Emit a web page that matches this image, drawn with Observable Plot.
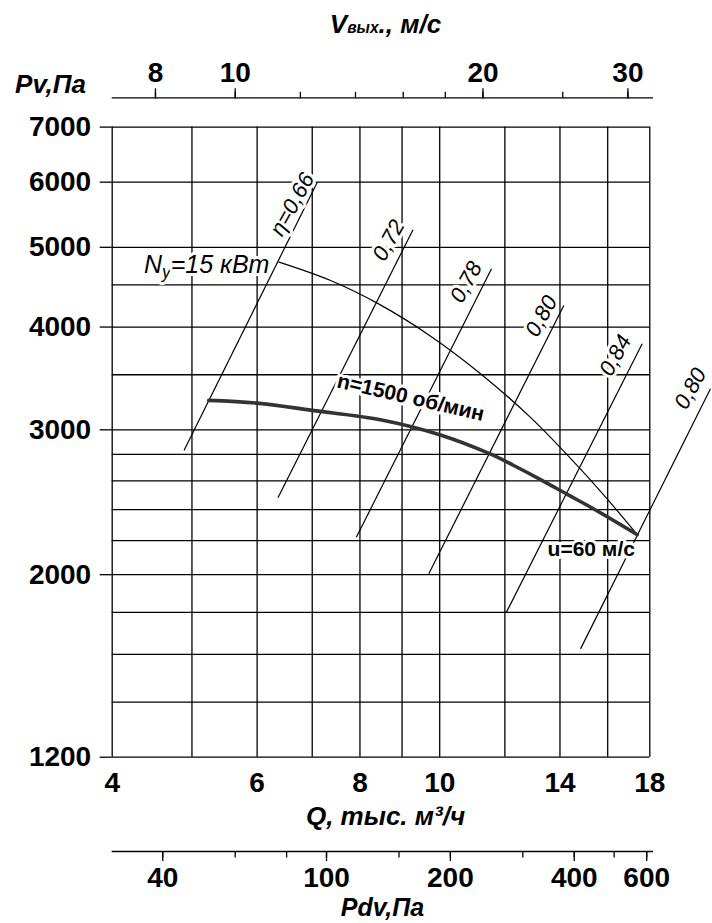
<!DOCTYPE html>
<html><head><meta charset="utf-8">
<script src="https://cdn.jsdelivr.net/npm/d3@7"></script>
<script src="https://cdn.jsdelivr.net/npm/@observablehq/plot@0.6"></script>
<style>body{margin:0;background:#fff}</style>
</head><body><div id="chart"></div>
<script>
// ---- data ----
const qGrid = [4, 5, 6, 7, 8, 9, 10, 12, 14, 16, 18];
const qTicks = [4, 6, 8, 10, 14, 18];
const pGrid = [1200, 1400, 1600, 1800, 2000, 2200, 2400, 2600, 2800, 3000, 3500, 4000, 4500, 5000, 6000, 7000];
const pTicks = [1200, 2000, 3000, 4000, 5000, 6000, 7000];
const vTicks = [8, 10, 12, 14, 16, 18, 20, 25, 30];
const vLabels = [8, 10, 20, 30];
const pdvTicks = [40, 60, 80, 100, 150, 200, 300, 400, 500, 600];
const pdvLabels = [40, 100, 200, 400, 600];
const vPerQ = 1.772;   // outlet velocity, m/s per thousand m3/h
const rhoHalf = 0.6;   // dynamic pressure = 0.6 * V^2

const curveQ = [5.24, 6.0, 7.0, 8.47, 10.0, 11.5, 12.3, 13.26, 14.29, 15.39, 17.38];
const curveP = [3258, 3233, 3168, 3086, 2959, 2806, 2715, 2610, 2504, 2404, 2237];
const powerQ = [6.38, 7.37, 8.47, 9.74, 11.2, 12.9, 14.8, 16.1, 17.38];
const powerP = [4797, 4556, 4256, 3902, 3513, 3104, 2693, 2450, 2237];

const etaLabels = ["η=0,66", "0,72", "0,78", "0,80", "0,84", "0,80"];
const etaQ1 = [4.89, 6.36, 7.92, 9.70, 12.05, 14.83];
const etaP1 = [2832, 2480, 2221, 2005, 1800, 1625];
const etaQ2 = [7.10, 9.28, 11.56, 14.15, 17.62, 21.33];
const etaP2 = [6000, 5252, 4710, 4249, 3817, 3366];
const etaLabelQ = [6.62, 8.67, 10.77, 13.29, 16.35, 20.17];
const etaLabelP = [5640, 5097, 4535, 4123, 3694, 3366];

const rpmLabel = {text: "n=1500 об/мин", q: 9.22, p: 3284};
const powerLabel = {text: "Nу=15 кВт", q: 5.21, p: 4753};
const speedLabel = {text: "u=60 м/с", q: 15.28, p: 2146};

// ---- derived tables ----
const curve = curveQ.map((q, i) => ({q, p: curveP[i]}));
const power = powerQ.map((q, i) => ({q, p: powerP[i]}));
const eta = etaLabels.map((t, i) => ({t, q1: etaQ1[i], p1: etaP1[i], q2: etaQ2[i], p2: etaP2[i], lq: etaLabelQ[i], lp: etaLabelP[i]}));
const vToQ = v => v / vPerQ;
const pdvToQ = pd => Math.sqrt(pd / rhoHalf) / vPerQ;

const FONT = "'Liberation Sans', Arial, sans-serif";
const ink = "#000";
const lineW = 1.3;
const topOff = -29.3, botOff = 94.3;

const plot = Plot.plot({
  width: 712, height: 923,
  marginLeft: 111.7, marginRight: 62.7, marginTop: 126.6, marginBottom: 166.3,
  x: {type: "log", domain: [4, 18]},
  y: {type: "log", domain: [1200, 7000]},
  style: {fontFamily: FONT, background: "white", color: ink},
  marks: [
    Plot.gridX(qGrid, {stroke: ink, strokeOpacity: 1, strokeWidth: lineW}),
    Plot.gridY(pGrid, {stroke: ink, strokeOpacity: 1, strokeWidth: lineW}),
    Plot.axisY(pTicks, {tickSize: 12, tickPadding: 9, fontSize: 28, fontWeight: "bold", strokeWidth: lineW, tickFormat: d => String(d), label: null}),
    Plot.axisX(qTicks, {anchor: "bottom", tickSize: 0, tickPadding: 15, fontSize: 28, fontWeight: "bold", tickFormat: d => String(d), label: null}),
    // top velocity axis
    Plot.ruleY([7000], {dy: topOff, insetRight: -3.7, stroke: ink, strokeWidth: lineW}),
    Plot.axisX(vTicks.map(vToQ), {anchor: "top", dy: topOff, tickSize: 6.5, strokeWidth: lineW, tickFormat: () => "", label: null}),
    Plot.axisX(vLabels.map(vToQ), {anchor: "top", dy: topOff, tickSize: 10, tickPadding: 6, strokeWidth: lineW, fontSize: 28, fontWeight: "bold", tickFormat: d => String(Math.round(d * vPerQ)), label: null}),
    // bottom dynamic pressure axis
    Plot.ruleY([1200], {dy: botOff, insetRight: -3.7, stroke: ink, strokeWidth: lineW}),
    Plot.axisX(pdvTicks.map(pdvToQ), {anchor: "bottom", dy: botOff, tickSize: 6.5, strokeWidth: lineW, tickFormat: () => "", label: null}),
    Plot.axisX(pdvLabels.map(pdvToQ), {anchor: "bottom", dy: botOff, tickSize: 10, tickPadding: 6, strokeWidth: lineW, fontSize: 28, fontWeight: "bold", tickFormat: d => String(Math.round(rhoHalf * (d * vPerQ) ** 2)), label: null}),
    // curves
    Plot.link(eta, {x1: "q1", y1: "p1", x2: "q2", y2: "p2", stroke: ink, strokeWidth: 1.2}),
    Plot.line(power, {x: "q", y: "p", curve: "catmull-rom", stroke: ink, strokeWidth: 1.2}),
    Plot.line(curve, {x: "q", y: "p", curve: "catmull-rom", stroke: "#333", strokeWidth: 3.6}),
    // labels
    Plot.text(eta, {x: "lq", y: "lp", text: "t", rotate: -61, fontSize: 22, fontStyle: "italic", fill: ink, stroke: "white", strokeWidth: 6}),
    Plot.text([rpmLabel], {x: "q", y: "p", text: "text", rotate: 13, fontSize: 21, fontWeight: "bold", fill: ink, stroke: "white", strokeWidth: 6}),
    Plot.text([powerLabel], {x: "q", y: "p", text: "text", fontSize: 25, fontStyle: "italic", fill: ink, stroke: "white", strokeWidth: 6}),
    Plot.text([speedLabel], {x: "q", y: "p", text: "text", fontSize: 21, fontWeight: "bold", fill: ink, stroke: "white", strokeWidth: 6}),
    // titles
    Plot.text(["Vвых., м/с"], {frameAnchor: "top", dx: 4.5, dy: -94.6, lineAnchor: "bottom", fontSize: 26, fontWeight: "bold", fontStyle: "italic", fill: ink}),
    Plot.text(["Pv,Па"], {frameAnchor: "top-left", textAnchor: "middle", dx: -61.7, dy: -34.6, lineAnchor: "bottom", fontSize: 26, fontWeight: "bold", fontStyle: "italic", fill: ink}),
    Plot.text(["Q, тыс. м³/ч"], {frameAnchor: "bottom", dx: 4.5, dy: 68, lineAnchor: "bottom", fontSize: 26, fontWeight: "bold", fontStyle: "italic", fill: ink}),
    Plot.text(["Pdv,Па"], {frameAnchor: "bottom", dx: 1.5, dy: 159, lineAnchor: "bottom", fontSize: 25, fontWeight: "bold", fontStyle: "italic", fill: ink})
  ]
});

function rich(el, html) {
  const target = el.querySelector("tspan") || el;
  target.innerHTML = html;
}
d3.select(plot).selectAll("text").each(function () {
  const t = this.textContent;
  if (t === "Vвых., м/с") rich(this, 'V<tspan font-size="0.6em">вых</tspan>., м/с');
  else if (t === "Nу=15 кВт") rich(this, 'N<tspan font-size="0.7em" dy="5">у</tspan><tspan dy="-5">=15 кВт</tspan>');
});

document.getElementById("chart").appendChild(plot);
</script></body></html>
